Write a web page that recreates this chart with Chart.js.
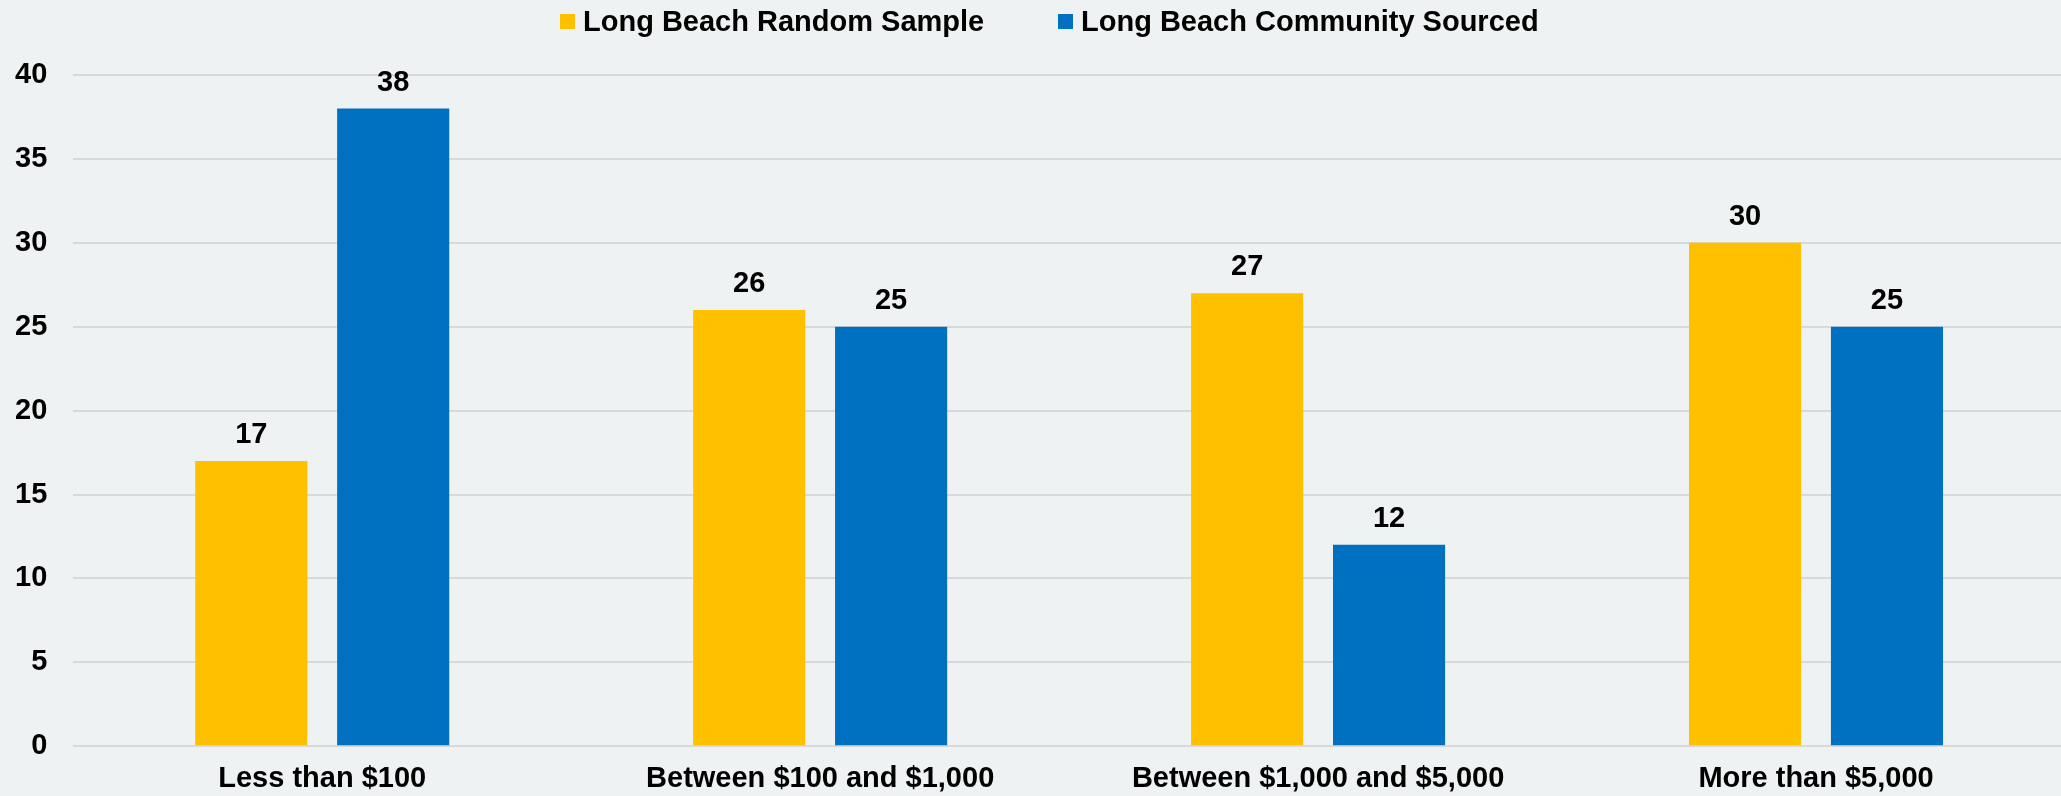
<!DOCTYPE html>
<html>
<head>
<meta charset="utf-8">
<script src="https://cdn.jsdelivr.net/npm/chart.js@4/dist/chart.umd.min.js"></script>
<style>
  body { margin: 0; background: #eff2f3; overflow: hidden; width: 2061px; height: 796px; position: relative; }
  /* chart box is a bit larger than the window so the plot area lands where the reference has it */
  #wrap { position: absolute; left: -26px; top: 0; width: 2092px; height: 812px; }
  #legend { position: absolute; top: 0; left: 0; width: 2061px; height: 45px;
            font: bold 29px "Liberation Sans", Arial, sans-serif; color: #000; }
  .item { position: absolute; top: 5px; display: flex; align-items: center; white-space: nowrap; }
  .box { width: 15px; height: 15px; margin-right: 8px; }
</style>
</head>
<body>
<div id="wrap">
  <canvas id="chart"></canvas>
</div>
<div id="legend"></div>
<script>
const categories = ['Less than $100', 'Between $100 and $1,000', 'Between $1,000 and $5,000', 'More than $5,000'];
const seriesNames = ['Long Beach Random Sample', 'Long Beach Community Sourced'];
const randomSample = [17, 26, 27, 30];
const communitySourced = [38, 25, 12, 25];
const seriesColors = ['#FFC000', '#0070C0'];
const yTicks = [0, 5, 10, 15, 20, 25, 30, 35, 40];

const fontFamily = '"Liberation Sans", Arial, sans-serif';

// legend built by hand so the spacing matches
const legendEl = document.getElementById('legend');
const legendX = [560, 1058];
for (let i = 0; i < seriesNames.length; i++) {
    const item = document.createElement('div');
    item.className = 'item';
    item.style.left = legendX[i] + 'px';
    const box = document.createElement('span');
    box.className = 'box';
    box.style.background = seriesColors[i];
    const label = document.createElement('span');
    label.textContent = seriesNames[i];
    item.appendChild(box);
    item.appendChild(label);
    legendEl.appendChild(item);
}

const valueLabels = {
    id: 'valueLabels',
    afterDatasetsDraw(chart) {
        const ctx = chart.ctx;
        ctx.save();
        ctx.font = 'bold 29px ' + fontFamily;
        ctx.fillStyle = '#000';
        ctx.textAlign = 'center';
        ctx.textBaseline = 'alphabetic';
        chart.data.datasets.forEach((ds, i) => {
            chart.getDatasetMeta(i).data.forEach((bar, j) => {
                ctx.fillText(ds.data[j], bar.x, bar.y - 18);
            });
        });
        ctx.restore();
    }
};

const ctx = document.getElementById('chart').getContext('2d');
new Chart(ctx, {
    type: 'bar',
    data: {
        labels: categories,
        datasets: [
            { label: seriesNames[0], data: randomSample, backgroundColor: seriesColors[0] },
            { label: seriesNames[1], data: communitySourced, backgroundColor: seriesColors[1] }
        ]
    },
    options: {
        responsive: true,
        maintainAspectRatio: false,
        animation: false,
        categoryPercentage: 0.57,
        barPercentage: 0.79,
        layout: { padding: { top: 75, bottom: 1, left: 15, right: 1 } },
        plugins: {
            legend: { display: false },
            tooltip: { enabled: false }
        },
        scales: {
            x: {
                grid: { display: false, drawTicks: false },
                border: { display: false },
                ticks: { color: '#000', padding: 15, font: { family: fontFamily, size: 29, weight: 'bold' } }
            },
            y: {
                min: 0,
                max: 40,
                afterBuildTicks: (axis) => { axis.ticks = yTicks.map(v => ({ value: v })); },
                grid: { color: '#d9d9d9', lineWidth: 2, drawTicks: false },
                border: { display: false },
                ticks: { color: '#000', padding: 26, font: { family: fontFamily, size: 29, weight: 'bold' } }
            }
        }
    },
    plugins: [valueLabels]
});
</script>
</body>
</html>
